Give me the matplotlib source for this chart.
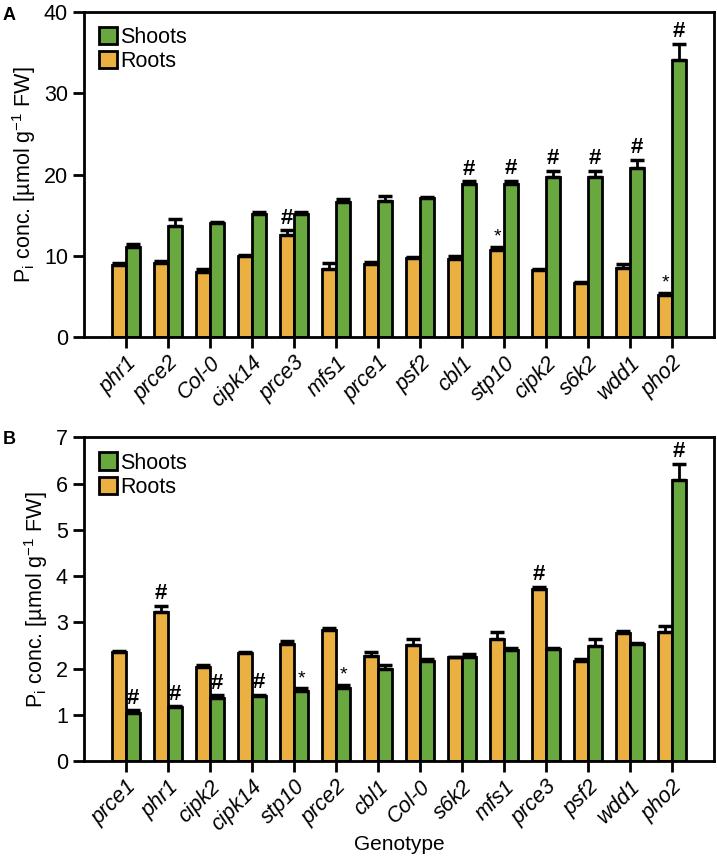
import matplotlib.pyplot as plt
import numpy as np

plt.rcParams['font.family'] = ['Liberation Sans', 'DejaVu Sans']

# Panel A data
genotypes_a = ["phr1", "prce2", "Col-0", "cipk14", "prce3", "mfs1", "prce1",
               "psf2", "cbl1", "stp10", "cipk2", "s6k2", "wdd1", "pho2"]
roots_a = [8.9, 9.15, 8.0, 10.0, 12.55, 8.45, 8.95, 9.7, 9.6, 10.7, 8.3, 6.7, 8.5, 5.2]
roots_err_a = [0.25, 0.25, 0.35, 0.15, 0.6, 0.65, 0.3, 0.2, 0.35, 0.4, 0.15, 0.1, 0.5, 0.2]
shoots_a = [11.1, 13.7, 14.0, 15.2, 15.1, 16.65, 16.8, 17.1, 18.9, 18.9, 19.7, 19.7, 20.8, 34.1]
shoots_err_a = [0.4, 0.9, 0.2, 0.15, 0.3, 0.3, 0.6, 0.1, 0.3, 0.35, 0.75, 0.75, 1.05, 2.0]
roots_marks_a = ["", "", "", "", "#", "", "", "", "", "*", "", "", "", "*"]
shoots_marks_a = ["", "", "", "", "", "", "", "", "#", "#", "#", "#", "#", "#"]

# Panel B data
genotypes_b = ["prce1", "phr1", "cipk2", "cipk14", "stp10", "prce2", "cbl1",
               "Col-0", "s6k2", "mfs1", "prce3", "psf2", "wdd1", "pho2"]
roots_b = [2.36, 3.23, 2.03, 2.34, 2.54, 2.84, 2.27, 2.5, 2.24, 2.64, 3.71, 2.16, 2.76, 2.8]
roots_err_b = [0.02, 0.13, 0.04, 0.02, 0.06, 0.03, 0.08, 0.14, 0.02, 0.14, 0.06, 0.05, 0.06, 0.13]
shoots_b = [1.04, 1.16, 1.37, 1.4, 1.52, 1.57, 1.98, 2.17, 2.25, 2.41, 2.42, 2.49, 2.52, 6.08]
shoots_err_b = [0.06, 0.02, 0.05, 0.03, 0.05, 0.07, 0.1, 0.04, 0.06, 0.03, 0.02, 0.14, 0.03, 0.35]
roots_marks_b = ["", "#", "", "", "", "", "", "", "", "", "#", "", "", ""]
shoots_marks_b = ["#", "#", "#", "#", "*", "*", "", "", "", "", "", "", "", "#"]

ROOT_COLOR = '#EAB042'
SHOOT_COLOR = '#69A83F'
FS = 15.5


def draw_panel(ax, genotypes, roots, roots_err, shoots, shoots_err,
               roots_marks, shoots_marks, ymax, step, mark_pad):
    x = np.arange(len(genotypes))
    w = 1 / 3
    zeros = np.zeros(len(genotypes))
    ekw = dict(ecolor='black', elinewidth=2, capsize=5, capthick=2.5)

    ax.bar(x - w / 2, roots, w, yerr=[zeros, roots_err], color=ROOT_COLOR,
           edgecolor='black', linewidth=2, error_kw=ekw, label='Roots', zorder=2)
    ax.bar(x + w / 2, shoots, w, yerr=[zeros, shoots_err], color=SHOOT_COLOR,
           edgecolor='black', linewidth=2, error_kw=ekw, label='Shoots', zorder=2)

    # Significance marks above the error bars
    for xs, vals, errs, marks in [(x - w / 2, roots, roots_err, roots_marks),
                                  (x + w / 2, shoots, shoots_err, shoots_marks)]:
        for i, m in enumerate(marks):
            if not m:
                continue
            if m == '#':
                ax.text(xs[i], vals[i] + errs[i] + mark_pad, m, ha='center',
                        va='bottom', fontsize=16, fontweight='bold')
            else:
                ax.text(xs[i], vals[i] + errs[i] + mark_pad, m, ha='center',
                        va='bottom', fontsize=14)

    ax.set_xlim(-1, len(genotypes))
    ax.set_ylim(0, ymax)
    ax.set_yticks(np.arange(0, ymax + step / 2, step))
    ax.set_xticks(x)
    ax.set_xticklabels(genotypes, rotation=45, ha='right', rotation_mode='anchor',
                       style='italic', fontsize=FS)
    ax.tick_params(axis='both', direction='out', length=8, width=2, labelsize=FS)
    ax.tick_params(axis='x', pad=3)
    for s in ax.spines.values():
        s.set_linewidth(2)
    ax.set_ylabel(r'P$_\mathregular{i}$ conc. [µmol g$^\mathregular{-1}$ FW]',
                  fontsize=FS, labelpad=4)

    # Legend: Shoots first, then Roots
    h, l = ax.get_legend_handles_labels()
    ax.legend([h[1], h[0]], [l[1], l[0]], loc='upper left', frameon=False, fontsize=FS,
              handlelength=0.85, handleheight=0.85, handletextpad=0.15, labelspacing=0.15,
              borderaxespad=0.3)


fig = plt.figure(figsize=(7.17, 8.56), dpi=100)
ax1 = fig.add_axes([0.117, 0.606, 0.879, 0.380])
ax2 = fig.add_axes([0.117, 0.111, 0.879, 0.378])

draw_panel(ax1, genotypes_a, roots_a, roots_err_a, shoots_a, shoots_err_a,
           roots_marks_a, shoots_marks_a, 40, 10, 0.2)
draw_panel(ax2, genotypes_b, roots_b, roots_err_b, shoots_b, shoots_err_b,
           roots_marks_b, shoots_marks_b, 7, 1, 0.03)
ax2.set_xlabel("Genotype", fontsize=15)
ax2.xaxis.set_label_coords(0.5, -0.228)

fig.text(0.004, 0.982, 'A', fontsize=13, fontweight='bold', va='center')
fig.text(0.004, 0.486, 'B', fontsize=13, fontweight='bold', va='center')

plt.savefig('out.png', dpi=100)
